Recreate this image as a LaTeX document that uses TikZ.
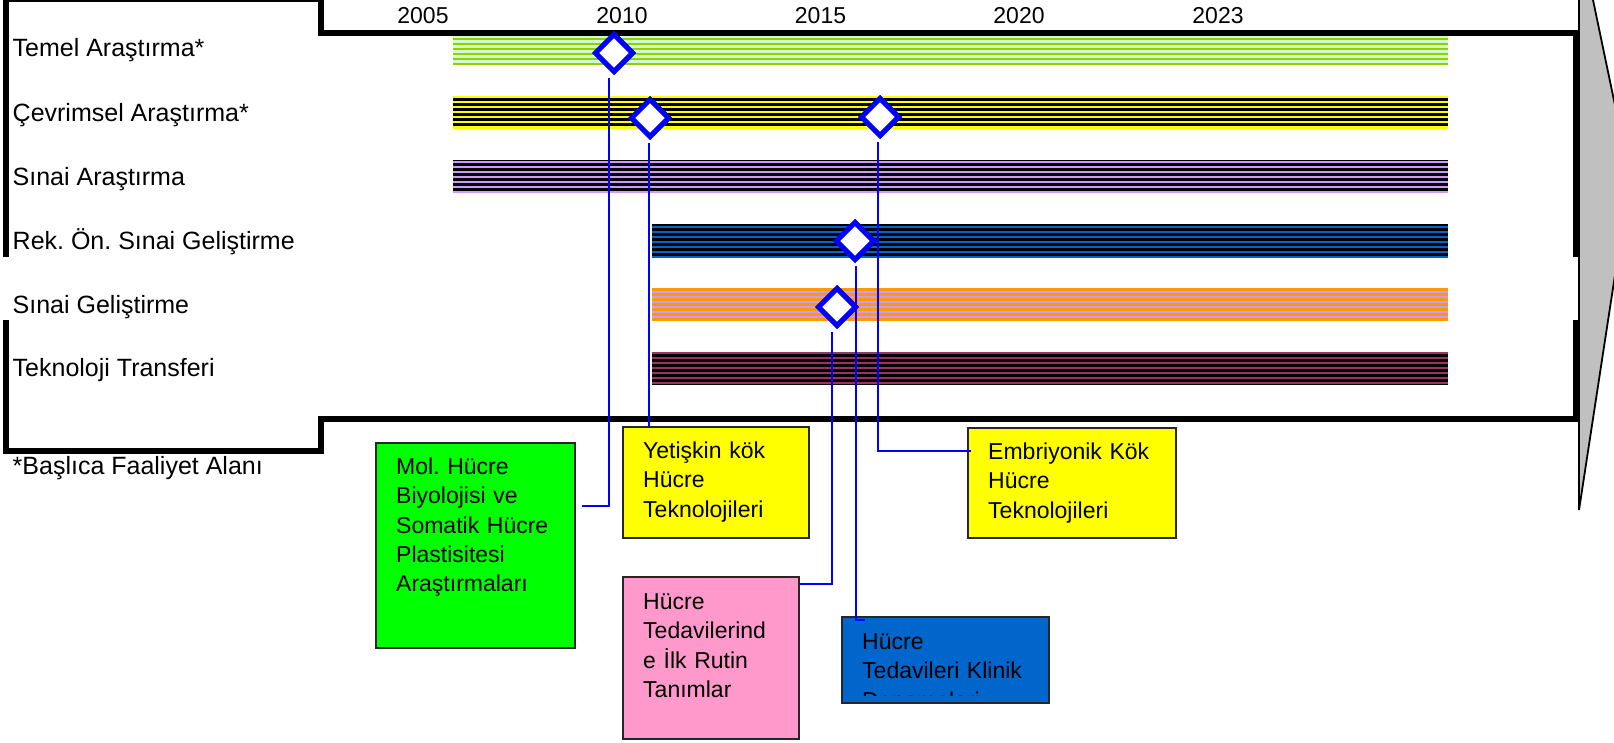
\documentclass[tikz,border=0pt]{standalone}
\usepackage{fontspec}
\setmainfont{Liberation Sans}
\usetikzlibrary{shapes.geometric,calc}
\frenchspacing

\definecolor{mblue}{HTML}{0000FF}
\definecolor{lgreen}{HTML}{CCFFCC}
\definecolor{ggreen}{HTML}{99CC00}
\definecolor{lav}{HTML}{CC99FF}
\definecolor{sblue}{HTML}{0066CC}
\definecolor{sorange}{HTML}{FF9900}
\definecolor{maroon}{HTML}{993366}
\definecolor{cgreen}{HTML}{00FF00}
\definecolor{cyellow}{HTML}{FFFF00}
\definecolor{cpink}{HTML}{FF99CC}
\definecolor{arrowgray}{HTML}{C0C0C0}

% striped phase bar: x1, top, x2, background, stripe colour, first stripe offset, stripe width, last index
\newcommand\phasebar[8]{%
  \fill[#4] (#1,#2) rectangle (#3,#2+33);
  \foreach \k in {0,...,#8}{%
    \fill[#5] (#1,#2+#6+5*\k) rectangle (#3,#2+#6+5*\k+#7);
  }%
}

\begin{document}
\begin{tikzpicture}[x=1pt,y=-1pt,
  lbl/.style={anchor=base west, inner sep=0, font=\fontsize{25}{30}\selectfont},
  yr/.style={anchor=base, inner sep=0, font=\fontsize{23}{28}\selectfont},
  box/.style={draw=black!85, line width=1.6, anchor=north west, inner sep=0, outer sep=0},
  boxtext/.style={anchor=base west, inner sep=0, text width=260pt, align=left,
    font=\fontsize{23}{29.3}\selectfont},
  milestone/.style={diamond, draw=mblue, fill=white, line width=5,
    minimum width=39, minimum height=39, inner sep=0},
  link/.style={draw=mblue, line width=2},
  frameline/.style={line width=5.5, line join=miter}]

\useasboundingbox (0,0) rectangle (1614,742);
\clip (0,0) rectangle (1614,742);

% phase bars
\phasebar{453}{32}{1448}{lgreen}{ggreen}{1}{2.4}{6}
\phasebar{453}{96}{1448}{cyellow}{black}{2.3}{2.7}{5}
\phasebar{453}{160}{1448}{black}{lav}{0.5}{2.2}{6}
\phasebar{652}{224}{1448}{black}{sblue}{1.7}{2.2}{6}
\phasebar{652}{288}{1448}{sorange}{lav}{3.2}{1.8}{5}
\phasebar{652}{352}{1448}{black}{maroon}{0}{1.8}{6}

% outline of the table
\draw[frameline] (6,257) -- (6,-0.5) -- (321,-0.5) -- (321,33) -- (1576,33) -- (1576,257);
\draw[frameline] (1576,320) -- (1576,419) -- (321,419) -- (321,451) -- (6,451) -- (6,320);

% time arrow
\filldraw[fill=arrowgray, draw=black, line width=1.8]
  (1579,-67) -- (1630,177) -- (1579,510) -- cycle;

% year scale
\node[yr] (y2005) at (423,23) {2005};
\node[yr] (y2010) at (622,23) {2010};
\node[yr] (y2015) at (820.5,23) {2015};
\node[yr] (y2020) at (1019,23) {2020};
\node[yr] (y2023) at (1218,23) {2023};

% row labels
\node[lbl] (r1) at (12.5,56) {Temel Araştırma*};
\node[lbl] (r2) at (12.5,121) {Çevrimsel Araştırma*};
\node[lbl] (r3) at (12.5,185) {Sınai Araştırma};
\node[lbl] (r4) at (12.5,249) {Rek. Ön. Sınai Geliştirme};
\node[lbl] (r5) at (12.5,313) {Sınai Geliştirme};
\node[lbl] (r6) at (12.5,376) {Teknoloji Transferi};
\node[lbl] (note) at (12.5,474.5) {*Başlıca Faaliyet Alanı};

% milestone boxes
\node[box, fill=cgreen, minimum width=199, minimum height=205] (mol) at (376,443) {};
\node[boxtext] at ($(mol.north west)+(20,31.5)$)
  {Mol. Hücre\\Biyolojisi ve\\Somatik Hücre\\Plastisitesi\\Araştırmaları};

\node[box, fill=cyellow, minimum width=186, minimum height=111] (adult) at (623,427) {};
\node[boxtext] at ($(adult.north west)+(20,31.5)$)
  {Yetişkin kök\\Hücre\\Teknolojileri};

\node[box, fill=cpink, minimum width=176, minimum height=162] (routine) at (623,577) {};
\node[boxtext] at ($(routine.north west)+(20,32.5)$)
  {Hücre\\Tedavilerind\\e İlk Rutin\\Tanımlar};

\node[box, fill=cyellow, minimum width=208, minimum height=110] (embryo) at (968,428) {};
\node[boxtext] at ($(embryo.north west)+(20,31.5)$)
  {Embriyonik Kök\\Hücre\\Teknolojileri};

\node[box, fill=sblue, minimum width=207, minimum height=86] (clinic) at (842,617) {};
\begin{scope}
  \clip ($(clinic.north west)+(1,1)$) rectangle ($(clinic.south east)+(-1,-8)$);
  \node[boxtext] at ($(clinic.north west)+(20,32.5)$)
    {Hücre\\Tedavileri Klinik\\Denemeleri};
\end{scope}

% milestone positions
\node[milestone] (d1) at (614,53) {};
\node[milestone] (d2) at (650,118) {};
\node[milestone] (d3) at (880,117) {};
\node[milestone] (d4) at (855,241) {};
\node[milestone] (d5) at (837,307) {};

% leader lines from milestones to their boxes
\coordinate (c1) at ($(d1.south)+(-5,3)$);
\coordinate (c2) at ($(d2.south)+(-1,3)$);
\coordinate (c3) at ($(d3.south)+(-2,3)$);
\coordinate (c4) at ($(d4.south)+(1,3)$);
\coordinate (c5) at ($(d5.south)+(-5,3)$);
\draw[link] (c1) |- ($(mol.north east)+(7,63)$);
\draw[link] (c2) -- (c2 |- adult.north);
\draw[link] (c3) |- ($(embryo.north west)+(3,23)$);
\draw[link] (c4) |- ($(clinic.north west)+(23,3)$);
\draw[link] (c5) |- ($(routine.north east)+(1,7)$);

% redraw milestones above their leader lines
\node[milestone] at (d1) {};
\node[milestone] at (d2) {};
\node[milestone] at (d3) {};
\node[milestone] at (d4) {};
\node[milestone] at (d5) {};
\end{tikzpicture}
\end{document}
